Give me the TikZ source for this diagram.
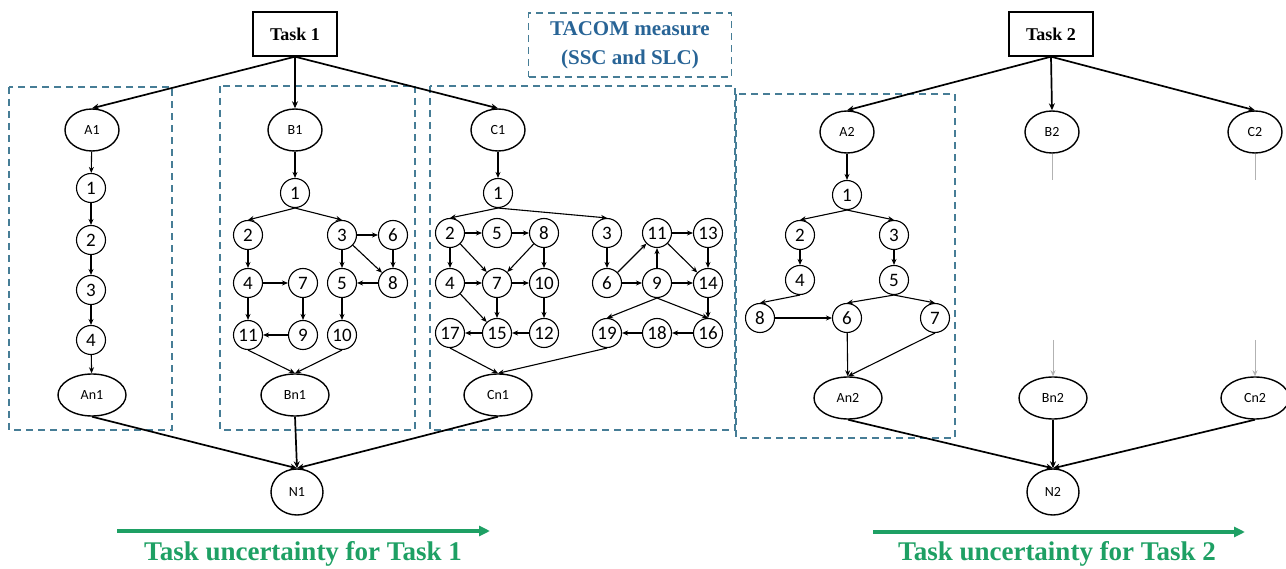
\documentclass[tikz,border=0pt]{standalone}
\usepackage{fontspec}
\setmainfont{Liberation Serif}
\newfontfamily\lab{Carlito}
\usetikzlibrary{shapes.geometric,arrows.meta}
\definecolor{grpc}{RGB}{70,125,150}
\definecolor{tacomc}{RGB}{40,100,150}
\definecolor{uncc}{RGB}{30,160,100}
\begin{document}
\begin{tikzpicture}[x=1pt,y=-1pt,
 circ/.style={circle,draw,line width=1.1pt,minimum size=29pt,inner sep=0pt,font=\lab\fontsize{19}{19}\selectfont},
 ell/.style={ellipse,draw,line width=1.4pt,minimum width=54pt,minimum height=42pt,inner sep=0pt,font=\lab\fontsize{14}{14}\selectfont},
 elln/.style={ell,minimum width=68pt},
 nell/.style={ell,minimum width=52pt,minimum height=46pt},
 taskbox/.style={rectangle,draw,line width=1.4pt,minimum width=84pt,minimum height=44pt,inner sep=0pt,font=\bfseries\fontsize{18}{18}\selectfont},
 grpbox/.style={draw=grpc,dash pattern=on 7pt off 5pt,line width=1.5pt},
 ed/.style={-{Stealth[length=6pt,width=5pt]},line width=1.1pt},
 med/.style={-{Stealth[length=7pt,width=6pt]},line width=1.7pt},
 gred/.style={gray!60,line width=0.9pt},
 garr/.style={gray!60,line width=0.9pt,-{Stealth[length=6pt,width=5pt]}},
 unc/.style={uncc,line width=3.5pt,-{Triangle[length=11pt,width=10pt]}},
 unct/.style={text=uncc,font=\bfseries\fontsize{27}{27}\selectfont}
]
\useasboundingbox (0,0) rectangle (1286,569);

% dashed group boxes
\draw[grpbox] (9,87) rectangle (172,430);
\draw[grpbox] (220,86) rectangle (415,430);
\draw[grpbox] (430,86) rectangle (735,430);
\draw[grpbox] (736,94) rectangle (955,438);
\node[grpbox,rectangle,minimum width=203pt,minimum height=64pt,inner sep=0pt,align=center,text=tacomc,font=\bfseries\fontsize{21}{29}\selectfont] (tacom) at (630,45) {TACOM measure\\(SSC and SLC)};

% tasks
\node[taskbox] (T1) at (295,34) {Task 1};
\node[taskbox] (T2) at (1051,34) {Task 2};

% column A
\node[ell] (A1) at (92,130) {A1};
\node[circ] (a1) at (91,188) {1};
\node[circ] (a2) at (91,240) {2};
\node[circ] (a3) at (91,290) {3};
\node[circ] (a4) at (91,340) {4};
\node[elln] (An1) at (92,395) {An1};

% column B
\node[ell] (B1) at (295,130) {B1};
\node[circ] (b1) at (295,193) {1};
\node[circ] (b2) at (248,235) {2};
\node[circ] (b3) at (342,235) {3};
\node[circ] (b6) at (393,235) {6};
\node[circ] (b4) at (248,283) {4};
\node[circ] (b7) at (303,283) {7};
\node[circ] (b5) at (342,283) {5};
\node[circ] (b8) at (393,283) {8};
\node[circ] (b11) at (248,335) {11};
\node[circ] (b9) at (303,335) {9};
\node[circ] (b10) at (342,335) {10};
\node[elln] (Bn1) at (295,395) {Bn1};

% column C
\node[ell] (C1) at (498,130) {C1};
\node[circ] (c1) at (498,193) {1};
\node[circ] (c2) at (450,233) {2};
\node[circ] (c5) at (497,233) {5};
\node[circ] (c8) at (544,233) {8};
\node[circ] (c3) at (607,233) {3};
\node[circ] (c11) at (657,233) {11};
\node[circ] (c13) at (708,233) {13};
\node[circ] (c4) at (450,283) {4};
\node[circ] (c7) at (497,283) {7};
\node[circ] (c10) at (544,283) {10};
\node[circ] (c6) at (607,283) {6};
\node[circ] (c9) at (657,283) {9};
\node[circ] (c14) at (708,283) {14};
\node[circ] (c17) at (450,333) {17};
\node[circ] (c15) at (497,333) {15};
\node[circ] (c12) at (544,333) {12};
\node[circ] (c19) at (607,333) {19};
\node[circ] (c18) at (657,333) {18};
\node[circ] (c16) at (708,333) {16};
\node[elln] (Cn1) at (498,395) {Cn1};

% column A2
\node[ell] (A2) at (847,132) {A2};
\node[circ] (d1) at (847,195) {1};
\node[circ] (d2) at (800,235) {2};
\node[circ] (d3) at (894,235) {3};
\node[circ] (d4) at (800,280) {4};
\node[circ] (d5) at (894,280) {5};
\node[circ] (d8) at (760,318) {8};
\node[circ] (d6) at (847,318) {6};
\node[circ] (d7) at (935,318) {7};
\node[elln] (An2) at (848,398) {An2};

% B2, C2
\node[ell] (B2) at (1052,132) {B2};
\node[ell] (C2) at (1255,132) {C2};
\node[elln] (Bn2) at (1053,398) {Bn2};
\node[elln] (Cn2) at (1255,398) {Cn2};

% end nodes
\node[nell] (N1) at (297,492) {N1};
\node[nell] (N2) at (1053,492) {N2};

% main edges
\foreach \s/\t in {T1.south/A1.north,T1.south/B1.north,T1.south/C1.north,
  T2.south/A2.north,T2.south/B2.north,T2.south/C2.north,
  An1.south/N1.north,Bn1.south/N1.north,Cn1.south/N1.north,
  An2.south/N2.north,Bn2.south/N2.north,Cn2.south/N2.north}
  \draw[med] (\s) -- (\t);

% inner edges
\foreach \s/\t in {A1/a1,a1/a2,a2/a3,a3/a4,a4/An1,
  B1/b1,b1.south/b2.north,b1.south/b3.north,b3/b6,b3/b5,b3/b8,b6/b8,b8/b5,
  b2/b4,b4/b7,b4/b11,b7/b9,b9/b11,b5/b10,b11.south/Bn1.north,b10.south/Bn1.north,
  C1/c1,c1.south/c2.north,c1.south/c3.north,c2/c5,c5/c8,c2/c4,c2/c7,c8/c7,c8/c10,
  c4/c7,c7/c10,c7/c15,c4/c15,c10/c12,c12/c15,c15/c17,c17.south/Cn1.north,c19.south/Cn1.north,
  c3/c6,c6/c11,c6/c9,c9/c11,c11/c13,c11/c14,c13/c14,c9/c14,c9.south/c16.north,c14/c16,
  c9.south/c19.north,c16/c18,c18/c19,
  A2/d1,d1.south/d2.north,d1.south/d3.north,d2/d4,d3/d5,d4.south/d8.north,d8/d6,
  d5.south/d6.north,d5.south/d7.north,d6/An2,d7.south/An2.north}
  \draw[ed] (\s) -- (\t);

% gray stubs
\coordinate (b2s) at (1052,180);
\coordinate (c2s) at (1255,180);
\coordinate (bn2s) at (1053,340);
\coordinate (cn2s) at (1255,340);
\draw[gred] (B2.south) -- (b2s);
\draw[gred] (C2.south) -- (c2s);
\draw[garr] (bn2s) -- (Bn2.north);
\draw[garr] (cn2s) -- (Cn2.north);

% uncertainty arrows
\coordinate (u1s) at (117,531);
\coordinate (u1e) at (490,531);
\coordinate (u2s) at (873,532);
\coordinate (u2e) at (1245,532);
\draw[unc] (u1s) -- (u1e);
\draw[unc] (u2s) -- (u2e);
\node[unct] (ut1) at (303,554) {Task uncertainty for Task 1};
\node[unct] (ut2) at (1057,554) {Task uncertainty for Task 2};
\end{tikzpicture}
\end{document}
